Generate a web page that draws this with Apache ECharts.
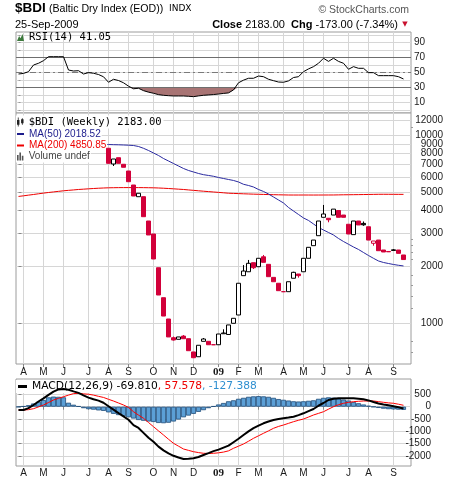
<!DOCTYPE html>
<html><head><meta charset="utf-8">
<script src="https://cdn.jsdelivr.net/npm/echarts@6/dist/echarts.min.js"></script>
<style>html,body{margin:0;padding:0;background:#fff}#c{width:460px;height:482px}</style>
</head><body><div id="c"></div>
<script>
// ---------- data ----------
const monthTickIdx = [1,5,9,14,18,22,27,31,35,40,44,48,53,57,61,66,70,75];
const monthLabels = ['A','M','J','J','A','S','O','N','D','09','F','M','A','M','J','J','A','S'];

const rsi = [47.7,48.5,50.8,59.7,62,65.5,70.8,70.8,70.8,70.8,
  53,51.7,52.1,47.7,49.5,48.7,47,44,36.7,40.7,
  39,36,31.5,28,28.7,25.5,23.5,22,20.2,19.3,
  18.8,18.4,18.4,18.4,18,17.5,18.5,19.3,19.8,20.3,
  21,21.8,22.5,26.5,36,39.5,42,42,45,44.1,
  40.7,38.8,37,36.7,38.5,43,44.1,50.8,54.5,57.5,
  62,68.7,64.5,68.7,64.5,62,54,57.5,55.3,55.3,
  49.5,49.5,45.5,45.5,45.5,45.5,44.1,41.05];
const rsiOversold = 30;

const candleStart = 18;
const candleOpen = [8530,7035,7600,7013,6457,5440,4714,4714,3500,2985,
  1975,1368,1054,838,822,855,828,704,664,802,
  802,769,769,880,872,1000,1107,1792,1880,2101,
  2000,2258,2059,1755,1633,1473,1473,1736,1829,1880,
  2217,2588,2924,3663,3620,3766,3980,3766,3363,2962,
  3500,3400,3263,2664,2772,2454,2410,2440,2454,2309];
const candleClose = [7096,7480,7096,6760,5664,4755,4916,3690,2950,2198,
  1414,1093,846,815,846,828,715,656,764,825,
  769,769,877,888,980,1063,1633,1897,2085,1975,
  2217,2110,1770,1664,1491,1473,1664,1867,1792,2217,
  2536,2772,3500,3814,3555,4049,3663,3663,2985,3500,
  3335,3340,2772,2740,2433,2395,2400,2460,2356,2183];
const candleLow = [7096,6865,7096,6760,5664,4755,4714,3690,2950,2198,
  1414,1093,846,810,822,828,715,656,664,802,
  769,769,769,877,872,1000,1107,1792,1880,1944,
  2000,2110,1770,1664,1491,1473,1473,1736,1749,1880,
  2217,2588,2924,3663,3446,3766,3663,3663,2985,2962,
  3335,3300,2772,2587,2433,2395,2400,2440,2356,2183];
const candleHigh = [8530,7480,7600,7013,6457,5440,4916,4714,3500,2985,
  1975,1368,1054,850,846,866,828,704,764,835,
  802,769,877,929,980,1063,1633,2040,2172,2101,
  2217,2309,2059,1755,1633,1473,1664,1880,1829,2217,
  2536,2772,3500,4260,3620,4049,3980,3766,3363,3500,
  3500,3480,3263,2740,2772,2454,2410,2484,2454,2309];
const redFlat = [39,53];
const redHollow = [71];
const blackFilled = [69];

const ma50Start = 17;
const ma50 = [8950,8930,8912,8900,8880,8858,8825,8718,8528,8302,
  8052,7809,7525,7300,7079,6865,6659,6500,6381,6265,
  6173,6114,6053,5964,5892,5820,5750,5645,5488,5408,
  5309,5149,5025,4873,4697,4528,4365,4130,3957,3792,
  3633,3524,3375,3233,3135,3041,2949,2826,2723,2633,
  2546,2470,2380,2294,2216,2145,2106,2080,2055,2035,2018.52];

const ma200 = [4730,4765,4805,4843,4885,4925,4963,4998,5033,5068,
  5095,5122,5150,5170,5192,5212,5230,5245,5257,5263,
  5268,5270,5271,5271,5270,5267,5262,5257,5245,5230,
  5212,5192,5170,5150,5122,5095,5068,5042,5018,4994,
  4970,4945,4920,4908,4896,4884,4874,4864,4855,4847,
  4839,4831,4825,4819,4813,4812,4812,4813,4812,4811,
  4812,4813,4814,4815,4820,4826,4828,4832,4836,4840,
  4845,4850,4855,4856,4855,4853,4852,4850.85];

const macd = [-134,-134,-60,69,210,340,480,608,700,720,
  690,620,560,460,370,300,245,160,20,-120,
  -260,-390,-530,-745,-860,-1060,-1260,-1420,-1620,-1770,
  -1890,-1990,-2060,-2120,-2110,-2092,-2040,-1958,-1880,-1800,
  -1740,-1660,-1580,-1440,-1300,-1147,-1000,-870,-770,-673,
  -600,-539,-500,-470,-440,-405,-340,-268,-180,-93,
  40,150,272,320,340,340,340,340,320,300,
  255,190,130,90,55,20,-20,-69.81];
const signal = [-134,-134,-120,-80,-10,69,170,272,340,405,
  470,530,543,520,505,470,420,375,300,230,
  150,70,-30,-203,-340,-470,-640,-811,-980,-1147,
  -1320,-1484,-1600,-1715,-1770,-1824,-1860,-1889,-1895,-1889,
  -1870,-1840,-1790,-1686,-1600,-1512,-1400,-1281,-1180,-1078,
  -980,-876,-800,-742,-675,-608,-550,-499,-420,-336,
  -270,-203,-100,0,80,138,175,203,220,231,
  231,231,205,178,155,138,100,57.578];
const hist = [-15,20,60,130,200,270,380,410,400,380,
  160,80,20,-60,-100,-120,-150,-170,-230,-290,
  -340,-380,-430,-480,-540,-570,-600,-620,-660,-670,
  -650,-600,-520,-430,-360,-290,-210,-140,-60,20,
  90,150,220,260,320,360,400,420,430,420,
  400,360,310,280,250,220,210,220,240,260,
  320,360,380,370,330,290,250,190,140,90,
  40,-10,-50,-80,-100,-110,-120,-127.388];

const priceTicks = [1000,2000,3000,4000,5000,6000,7000,8000,9000,10000,12000];
const priceMinorTicks = [700,800,1200,1400,1600,1800,2200,2400,2600,2800,11000];
const rsiGridTicks = [0,10,20,30,40,50,60,70,80,90,100];
const rsiTicks = [10,30,50,70,90];
const macdTicks = [-2000,-1500,-1000,-500,0,500];

// ---------- build ----------
const RED = '#d2003a';
const GRIDC = '#d6d6d6';
const BORDER = '#9c9c9c';
const AX_FONT = {fontFamily:'Liberation Sans', fontSize:10, color:'#1a1a1a'};
const L = v => Math.log10(v);
const RSI_MIN = -4.3, RSI_MAX = 103.7;

const candleData = candleOpen.map((o, i) => {
  const idx = candleStart + i;
  const item = {value:[idx, L(o), L(candleClose[i]), L(candleLow[i]), L(candleHigh[i])]};
  if (redFlat.includes(idx)) item.itemStyle = {color:RED, color0:RED, borderColor:RED, borderColor0:RED};
  if (redHollow.includes(idx)) item.itemStyle = {color:'#fff', color0:'#fff', borderColor:RED, borderColor0:RED};
  if (blackFilled.includes(idx)) item.itemStyle = {color:'#000', color0:'#000', borderColor:'#000', borderColor0:'#000'};
  return item;
});

function xAxis(gi, showLabels, labelMargin) {
  return {
    type:'value', gridIndex:gi, min:-0.5, max:78.5,
    axisLine:{show:false},
    splitLine:{show:true, lineStyle:{color:GRIDC, width:1}},
    axisTick:{show:showLabels, customValues:monthTickIdx, length:3, lineStyle:{color:'#888'}},
    axisLabel:{show:showLabels, customValues:monthTickIdx, margin:labelMargin, ...AX_FONT,
      formatter: v => { const k = monthTickIdx.indexOf(v); const s = k >= 0 ? monthLabels[k] : ''; return s === '09' ? '{b|09}' : s; },
      rich:{b:{fontFamily:'Liberation Serif', fontWeight:'bold', fontSize:11, color:'#1a1a1a'}}}
  };
}

const gridBase = {left:16, width:395, show:true, borderColor:BORDER, borderWidth:1, backgroundColor:'#fff'};

const option = {
  animation:false,
  backgroundColor:'#fff',
  grid:[
    {...gridBase, top:32, height:81},
    {...gridBase, top:113, height:251},
    {...gridBase, top:379, height:87}
  ],
  xAxis:[xAxis(0,false,2), xAxis(1,true,3), xAxis(2,true,2)],
  yAxis:[
    {type:'value', gridIndex:0, position:'right', min:RSI_MIN, max:RSI_MAX,
     axisLine:{show:false}, splitLine:{show:true, lineStyle:{color:GRIDC}},
     axisTick:{show:true, customValues:rsiGridTicks, length:2, lineStyle:{color:'#999'}},
     axisLabel:{customValues:rsiTicks, margin:3, ...AX_FONT, formatter:v=>String(v)}},
    {type:'value', gridIndex:1, position:'right', min:2.7835, max:4.1186,
     axisLine:{show:false}, splitLine:{show:true, lineStyle:{color:GRIDC}},
     axisTick:{show:true, customValues:priceTicks.map(L), length:3, lineStyle:{color:'#888'}},
     axisLabel:{customValues:priceTicks.map(L), margin:32, align:'right', ...AX_FONT,
       formatter:v=>String(Math.round(Math.pow(10,v)))}},
    {type:'value', gridIndex:1, position:'right', min:2.7835, max:4.1186,
     axisLine:{show:false}, splitLine:{show:false},
     axisTick:{show:true, customValues:priceMinorTicks.map(L), length:2, lineStyle:{color:'#999'}},
     axisLabel:{show:false}},
    {type:'value', gridIndex:2, position:'right', min:-2404, max:1123,
     axisLine:{show:false}, splitLine:{show:true, lineStyle:{color:GRIDC}},
     axisTick:{show:true, customValues:macdTicks, length:3, lineStyle:{color:'#888'}},
     axisLabel:{customValues:macdTicks, margin:20, align:'right', ...AX_FONT, formatter:v=>String(v)}},
    // hidden axis measuring depth below the oversold level (inverted, 0 sits on the 30 line)
    {type:'value', gridIndex:0, show:false, inverse:true,
     min:rsiOversold-RSI_MAX, max:rsiOversold-RSI_MIN, splitLine:{show:false}}
  ],
  legend:[
    {left:16, top:31, padding:[1,2,1,1], itemWidth:7, itemHeight:7, selectedMode:false,
     data:[{name:'RSI(14)', icon:'path://M0,10L3,3L5,6L8,0L10,10Z', itemStyle:{color:'#3d7a3d', borderWidth:0}}],
     formatter:()=> 'RSI(14) 41.05',
     textStyle:{fontFamily:'DejaVu Sans Mono', fontSize:10.5, color:'#000'}},
    {left:16, top:115.5, padding:[1,2,1,1], itemWidth:7, itemHeight:9, selectedMode:false, backgroundColor:'#fff',
     data:[{name:'$BDI', icon:'path://M0,3L3,3L3,9L0,9Z M1,0L2,0L2,11L1,11Z M5,2L8,2L8,7L5,7Z M6,1L7,1L7,9L6,9Z', itemStyle:{color:'#222', borderWidth:0}}],
     formatter:()=> '$BDI (Weekly) 2183.00',
     textStyle:{fontFamily:'DejaVu Sans Mono', fontSize:10.5, color:'#000'}},
    {left:16, top:128, padding:[1,1,1,1], itemWidth:7, itemHeight:2, selectedMode:false, backgroundColor:'#fff',
     data:[{name:'MA(50)', icon:'rect', itemStyle:{color:'#1c1c8c', borderWidth:0}}],
     formatter:()=> 'MA(50) 2018.52',
     textStyle:{fontFamily:'Liberation Sans', fontSize:10, color:'#1c1c8c'}},
    {left:16, top:139.5, padding:[1,1,1,1], itemWidth:7, itemHeight:2, selectedMode:false, backgroundColor:'#fff',
     data:[{name:'MA(200)', icon:'rect', itemStyle:{color:'#ee0000', borderWidth:0}}],
     formatter:()=> 'MA(200) 4850.85',
     textStyle:{fontFamily:'Liberation Sans', fontSize:10, color:'#ee0000'}},
    {left:16, top:150.5, padding:[1,1,1,1], itemWidth:7, itemHeight:8, selectedMode:false, backgroundColor:'#fff',
     data:[{name:'Volume', icon:'path://M0,3L2,3L2,10L0,10Z M3,0L5,0L5,10L3,10Z M6,4L8,4L8,10L6,10Z', itemStyle:{color:'#555', borderWidth:0}}],
     formatter:()=> 'Volume undef',
     textStyle:{fontFamily:'Liberation Sans', fontSize:10, color:'#444'}},
    {left:16, top:380, padding:[1,3,1,2], itemWidth:9, itemHeight:3, selectedMode:false, backgroundColor:'#fff',
     data:[{name:'MACD', icon:'rect', itemStyle:{color:'#000', borderWidth:0}}],
     formatter:()=> '{k|MACD(12,26,9) -69.810}{r|, 57.578}{b|, -127.388}',
     textStyle:{fontFamily:'DejaVu Sans', fontSize:10.7, color:'#000',
       rich:{k:{fontFamily:'DejaVu Sans', fontSize:10.7, color:'#000'},
             r:{fontFamily:'DejaVu Sans', fontSize:10.7, color:'#ee0000'},
             b:{fontFamily:'DejaVu Sans', fontSize:10.7, color:'#2e8fd0'}}}}
  ],
  graphic:[
    {type:'text', x:15, y:8, style:{text:'$BDI', fontFamily:'Liberation Sans', fontWeight:'bold', fontSize:13.5, fill:'#000', verticalAlign:'middle'}},
    {type:'text', x:49, y:9, style:{text:'(Baltic Dry Index (EOD))', fontFamily:'Liberation Sans', fontSize:10.6, fill:'#000', verticalAlign:'middle'}},
    {type:'text', x:169, y:9, style:{text:'INDX', fontFamily:'DejaVu Sans', fontSize:9, fill:'#000', verticalAlign:'middle'}},
    {type:'text', x:409, y:10, style:{text:'© StockCharts.com', fontFamily:'Liberation Sans', fontSize:10.5, fill:'#555', align:'right', verticalAlign:'middle'}},
    {type:'text', x:15, y:24.5, style:{text:'25-Sep-2009', fontFamily:'Liberation Sans', fontSize:11, fill:'#000', verticalAlign:'middle'}},
    {type:'text', x:398, y:24.5, style:{text:'{b|Close} 2183.00  {b|Chg} -173.00 (-7.34%)', fontFamily:'Liberation Sans', fontSize:11, fill:'#000', align:'right', verticalAlign:'middle',
      rich:{b:{fontFamily:'Liberation Sans', fontWeight:'bold', fontSize:11, fill:'#000'}}}},
    {type:'text', x:405, y:24.5, style:{text:'▼', fontFamily:'DejaVu Sans', fontSize:7, fill:'#c8102e', align:'center', verticalAlign:'middle'}}
  ],
  series:[
    {name:'rsiFill', type:'line', xAxisIndex:0, yAxisIndex:4, symbol:'none', silent:true,
     data:rsi.map((v,i)=>[i, rsiOversold-Math.min(v,rsiOversold)]),
     lineStyle:{width:0, opacity:0}, areaStyle:{color:'#a87474', opacity:1}, z:1},
    {name:'RSI(14)', type:'line', xAxisIndex:0, yAxisIndex:0, symbol:'none',
     data:rsi.map((v,i)=>[i,v]), lineStyle:{color:'#000', width:1}, itemStyle:{color:'#000'}, z:5,
     markLine:{silent:true, symbol:'none', label:{show:false},
       data:[{yAxis:70, lineStyle:{color:'#6e6e6e', width:1, type:'solid'}},
             {yAxis:30, lineStyle:{color:'#6e6e6e', width:1, type:'solid'}},
             {yAxis:50, lineStyle:{color:'#7a7a7a', width:1, type:[6,3,2,3]}}]}},
    {name:'MA(200)', type:'line', xAxisIndex:1, yAxisIndex:1, symbol:'none',
     data:ma200.map((v,i)=>[i, L(v)]), lineStyle:{color:'#ee0000', width:1}, itemStyle:{color:'#ee0000'}, z:3},
    {name:'MA(50)', type:'line', xAxisIndex:1, yAxisIndex:1, symbol:'none',
     data:ma50.map((v,i)=>[ma50Start+i, L(v)]), lineStyle:{color:'#2a2aa0', width:1}, itemStyle:{color:'#1c1c8c'}, z:3},
    {name:'$BDI', type:'candlestick', xAxisIndex:1, yAxisIndex:1, barWidth:4,
     encode:{x:0, y:[1,2,3,4]}, data:candleData,
     itemStyle:{color:'#fff', color0:RED, borderColor:'#000', borderColor0:RED, borderWidth:1}, z:4},
    {name:'Volume', type:'bar', xAxisIndex:1, yAxisIndex:1, data:[], itemStyle:{color:'#555'}},
    {name:'hist', type:'bar', xAxisIndex:2, yAxisIndex:3, barWidth:5,
     data:hist.map((v,i)=>[i,v]), itemStyle:{color:'#5b9fd6', borderColor:'#1f4d7a', borderWidth:0.8}, z:2},
    {name:'Signal', type:'line', xAxisIndex:2, yAxisIndex:3, symbol:'none',
     data:signal.map((v,i)=>[i,v]), lineStyle:{color:'#ff0000', width:1}, z:3},
    {name:'MACD', type:'line', xAxisIndex:2, yAxisIndex:3, symbol:'none',
     data:macd.map((v,i)=>[i,v]), lineStyle:{color:'#000', width:2}, itemStyle:{color:'#000'}, z:4}
  ]
};

const chart = echarts.init(document.getElementById('c'), null, {renderer:'canvas', width:460, height:482});
chart.setOption(option);
</script>
</body></html>
